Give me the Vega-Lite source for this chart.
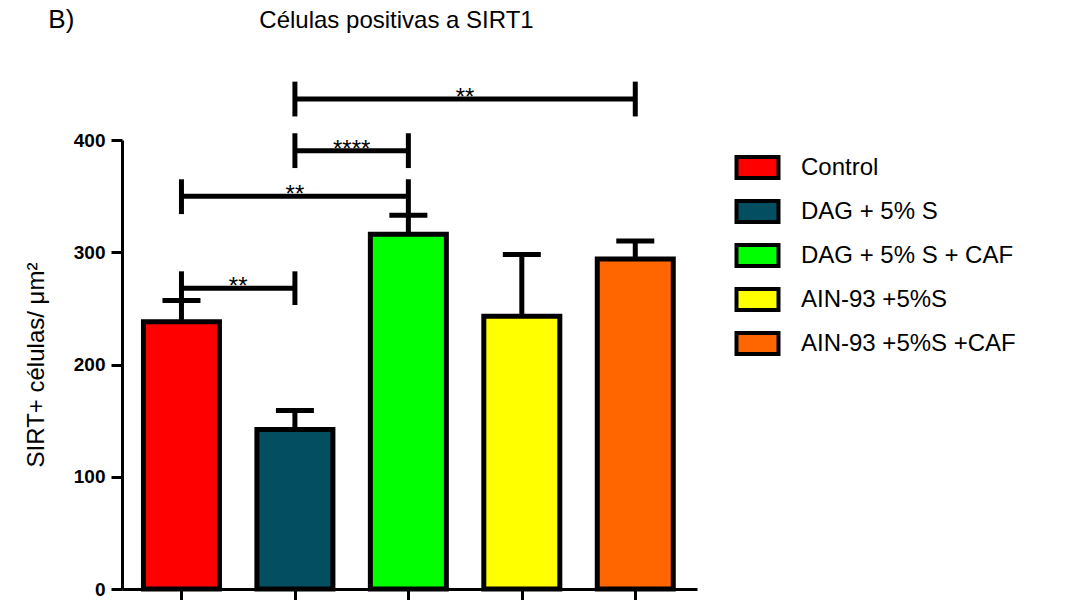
{
  "$schema": "https://vega.github.io/schema/vega-lite/v6.json",
  "padding": {"left": 24, "top": 7, "right": 0, "bottom": 0},
  "background": "white",
  "title": {"text": "B)", "anchor": "start", "fontSize": 26, "fontWeight": "normal", "font": "Liberation Sans", "color": "black", "offset": -24, "dx": 24},
  "datasets": {
    "bars": [
      {"group": "Control", "pos": 1, "mean": 238, "upper": 257},
      {"group": "DAG + 5% S", "pos": 2, "mean": 142, "upper": 159},
      {"group": "DAG + 5% S + CAF", "pos": 3, "mean": 316, "upper": 333},
      {"group": "AIN-93 +5%S", "pos": 4, "mean": 243, "upper": 298},
      {"group": "AIN-93 +5%S +CAF", "pos": 5, "mean": 294, "upper": 310}
    ],
    "brackets": [
      {"x1": 1, "x2": 2, "mid": 1.5, "y": 268, "lo": 253, "hi": 283, "label": "**"},
      {"x1": 1, "x2": 3, "mid": 2, "y": 350, "lo": 334, "hi": 365, "label": "**"},
      {"x1": 2, "x2": 3, "mid": 2.5, "y": 390.5, "lo": 375, "hi": 406, "label": "****"},
      {"x1": 2, "x2": 5, "mid": 3.5, "y": 436.5, "lo": 421, "hi": 452, "label": "**"}
    ]
  },
  "vconcat": [
    {
      "width": 575,
      "height": 449,
      "title": {"text": "Células positivas a SIRT1", "fontSize": 24, "fontWeight": "normal", "font": "Liberation Sans", "color": "black", "offset": 46, "dx": -13},
      "layer": [
        {
          "data": {"name": "bars"},
          "mark": {"type": "bar", "width": 76, "stroke": "black", "strokeWidth": 5},
          "encoding": {
            "x": {"field": "pos", "type": "quantitative", "scale": {"domain": [0.52, 5.5], "nice": false, "zero": false},
                  "axis": {"values": [1, 2, 3, 4, 5], "labels": false, "title": null, "tickSize": 12, "tickWidth": 3, "domainWidth": 3, "domainColor": "black", "tickColor": "black", "grid": false}},
            "y": {"field": "mean", "type": "quantitative", "scale": {"domain": [0, 400], "nice": false},
                  "axis": {"values": [0, 100, 200, 300, 400], "title": "SIRT+ células/ μm²", "titleFont": "Liberation Sans", "titleFontSize": 24, "titleFontWeight": "normal", "titleColor": "black", "titlePadding": 25, "labelFont": "Liberation Sans", "labelFontSize": 19, "labelFontWeight": "bold", "labelColor": "black", "labelPadding": 6, "tickSize": 11, "tickWidth": 3, "tickColor": "black", "domainWidth": 3, "domainColor": "black", "grid": false}},
            "fill": {"field": "group", "type": "nominal",
                     "scale": {"domain": ["Control", "DAG + 5% S", "DAG + 5% S + CAF", "AIN-93 +5%S", "AIN-93 +5%S +CAF"], "range": ["#FF0000", "#034E61", "#00FF00", "#FFFF00", "#FF6600"]},
                     "legend": {"title": null, "orient": "right", "offset": 33, "padding": 7, "symbolType": "M-1.15,-0.575H1.15V0.575H-1.15Z", "symbolSize": 1333, "symbolStrokeColor": "black", "symbolStrokeWidth": 4, "symbolOpacity": 1, "labelFont": "Liberation Sans", "labelFontSize": 24, "labelColor": "black", "labelLimit": 400, "labelOffset": 23, "rowPadding": 5}}
          }
        },
        {
          "data": {"name": "bars"},
          "mark": {"type": "rule", "color": "black", "strokeWidth": 5},
          "encoding": {
            "x": {"field": "pos", "type": "quantitative"},
            "y": {"field": "mean", "type": "quantitative"},
            "y2": {"field": "upper"}
          }
        },
        {
          "data": {"name": "bars"},
          "mark": {"type": "tick", "orient": "horizontal", "color": "black", "opacity": 1, "size": 38, "thickness": 5},
          "encoding": {
            "x": {"field": "pos", "type": "quantitative"},
            "y": {"field": "upper", "type": "quantitative"}
          }
        },
        {
          "data": {"name": "brackets"},
          "mark": {"type": "rule", "color": "black", "strokeWidth": 5},
          "encoding": {
            "x": {"field": "x1", "type": "quantitative"},
            "x2": {"field": "x2"},
            "y": {"field": "y", "type": "quantitative"}
          }
        },
        {
          "data": {"name": "brackets"},
          "mark": {"type": "rule", "color": "black", "strokeWidth": 5},
          "encoding": {
            "x": {"field": "x1", "type": "quantitative"},
            "y": {"field": "lo", "type": "quantitative"},
            "y2": {"field": "hi"}
          }
        },
        {
          "data": {"name": "brackets"},
          "mark": {"type": "rule", "color": "black", "strokeWidth": 5},
          "encoding": {
            "x": {"field": "x2", "type": "quantitative"},
            "y": {"field": "lo", "type": "quantitative"},
            "y2": {"field": "hi"}
          }
        },
        {
          "data": {"name": "brackets"},
          "mark": {"type": "text", "font": "Liberation Sans", "fontSize": 24, "color": "black", "baseline": "alphabetic", "align": "center", "dy": 6},
          "encoding": {
            "x": {"field": "mid", "type": "quantitative"},
            "y": {"field": "y", "type": "quantitative"},
            "text": {"field": "label"}
          }
        }
      ]
    }
  ],
  "config": {"view": {"stroke": null}, "font": "Liberation Sans"}
}
